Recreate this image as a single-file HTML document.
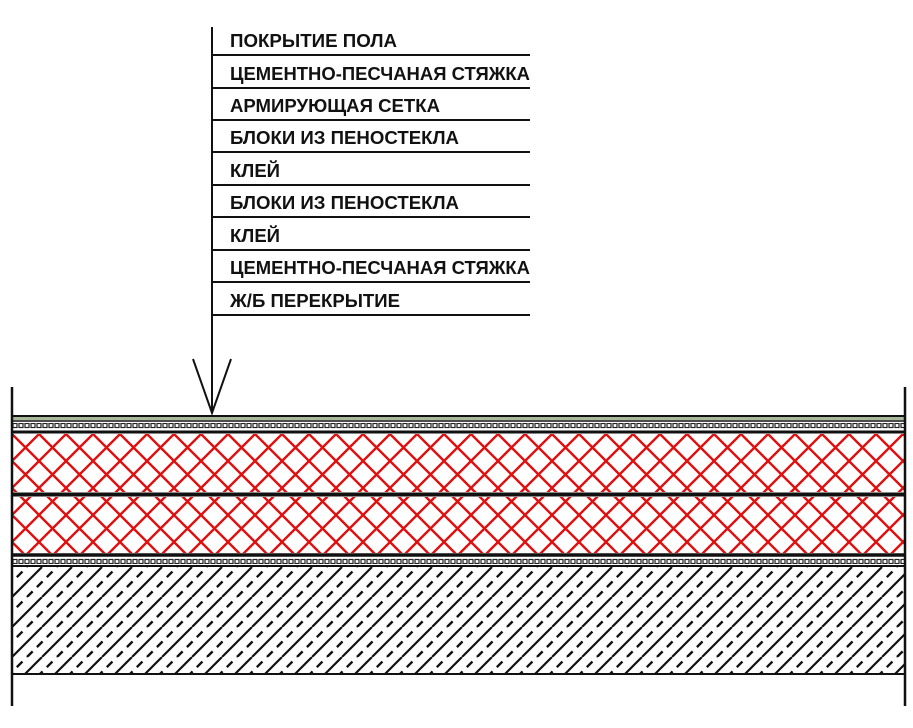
<!DOCTYPE html>
<html><head><meta charset="utf-8"><style>body{margin:0;background:#fff}svg{display:block}</style></head>
<body>
<svg width="913" height="728" viewBox="0 0 913 728" xmlns="http://www.w3.org/2000/svg">
<defs>
<pattern id="net" width="27" height="27" patternUnits="userSpaceOnUse" x="12" y="434">
<path d="M-2,-2 L29,29 M-2,29 L29,-2" stroke="#e01010" stroke-width="2.4" fill="none"/>
</pattern>
<pattern id="hatch" width="30" height="30" patternUnits="userSpaceOnUse" x="12" y="567">
<path d="M-15,15 L0,0 M0,30 L30,0 M30,30 L45,15" stroke="#111" stroke-width="2.2" fill="none"/>
<path d="M15,30 L45,0 M-15,30 L15,0" stroke="#111" stroke-width="2.4" fill="none" stroke-dasharray="8,6"/>
</pattern>
<pattern id="dots" width="6" height="8" patternUnits="userSpaceOnUse" x="12" y="422">
<rect x="1" y="1.5" width="4" height="4" fill="none" stroke="#222" stroke-width="1.2"/>
</pattern>
</defs>
<g font-family="Liberation Sans, Arial, sans-serif" font-weight="bold" font-size="18" fill="#111">
<text x="230" y="47" textLength="167" lengthAdjust="spacingAndGlyphs">ПОКРЫТИЕ ПОЛА</text>
<text x="230" y="80" textLength="300" lengthAdjust="spacingAndGlyphs">ЦЕМЕНТНО-ПЕСЧАНАЯ СТЯЖКА</text>
<text x="230" y="112" textLength="210" lengthAdjust="spacingAndGlyphs">АРМИРУЮЩАЯ СЕТКА</text>
<text x="230" y="144" textLength="229" lengthAdjust="spacingAndGlyphs">БЛОКИ ИЗ ПЕНОСТЕКЛА</text>
<text x="230" y="177" textLength="50" lengthAdjust="spacingAndGlyphs">КЛЕЙ</text>
<text x="230" y="209" textLength="229" lengthAdjust="spacingAndGlyphs">БЛОКИ ИЗ ПЕНОСТЕКЛА</text>
<text x="230" y="242" textLength="50" lengthAdjust="spacingAndGlyphs">КЛЕЙ</text>
<text x="230" y="274" textLength="300" lengthAdjust="spacingAndGlyphs">ЦЕМЕНТНО-ПЕСЧАНАЯ СТЯЖКА</text>
<text x="230" y="307" textLength="170" lengthAdjust="spacingAndGlyphs">Ж/Б ПЕРЕКРЫТИЕ</text>
</g>
<g stroke="#111" stroke-width="2" fill="none">
<line x1="212" y1="27" x2="212" y2="413"/>
<path d="M193,359 L212,413 L231,359"/>
<path d="M212,55H530 M212,88H530 M212,120H530 M212,152H530 M212,185H530 M212,217H530 M212,250H530 M212,282H530 M212,315H530"/>
</g>
<rect x="12" y="434" width="893" height="58" fill="url(#net)"/>
<rect x="12" y="497" width="893" height="56" fill="url(#net)"/>
<rect x="12" y="423" width="893" height="7" fill="url(#dots)"/>
<rect x="12" y="558" width="893" height="6" fill="url(#dots)"/>
<rect x="12" y="567" width="893" height="106" fill="url(#hatch)"/>
<rect x="12" y="417" width="893" height="3" fill="#a9b79a"/>
<g stroke="#111" fill="none">
<line x1="12" y1="416" x2="905" y2="416" stroke-width="2"/>
<line x1="12" y1="421" x2="905" y2="421" stroke-width="1.5"/>
<line x1="12" y1="432" x2="905" y2="432" stroke-width="3"/>
<line x1="12" y1="494.5" x2="905" y2="494.5" stroke-width="4"/>
<line x1="12" y1="555" x2="905" y2="555" stroke-width="3.5"/>
<line x1="12" y1="566" x2="905" y2="566" stroke-width="2"/>
<line x1="12" y1="674" x2="905" y2="674" stroke-width="2"/>
<line x1="12" y1="387" x2="12" y2="706" stroke-width="2.5"/>
<line x1="905" y1="387" x2="905" y2="706" stroke-width="2.5"/>
</g>
</svg>
</body></html>
